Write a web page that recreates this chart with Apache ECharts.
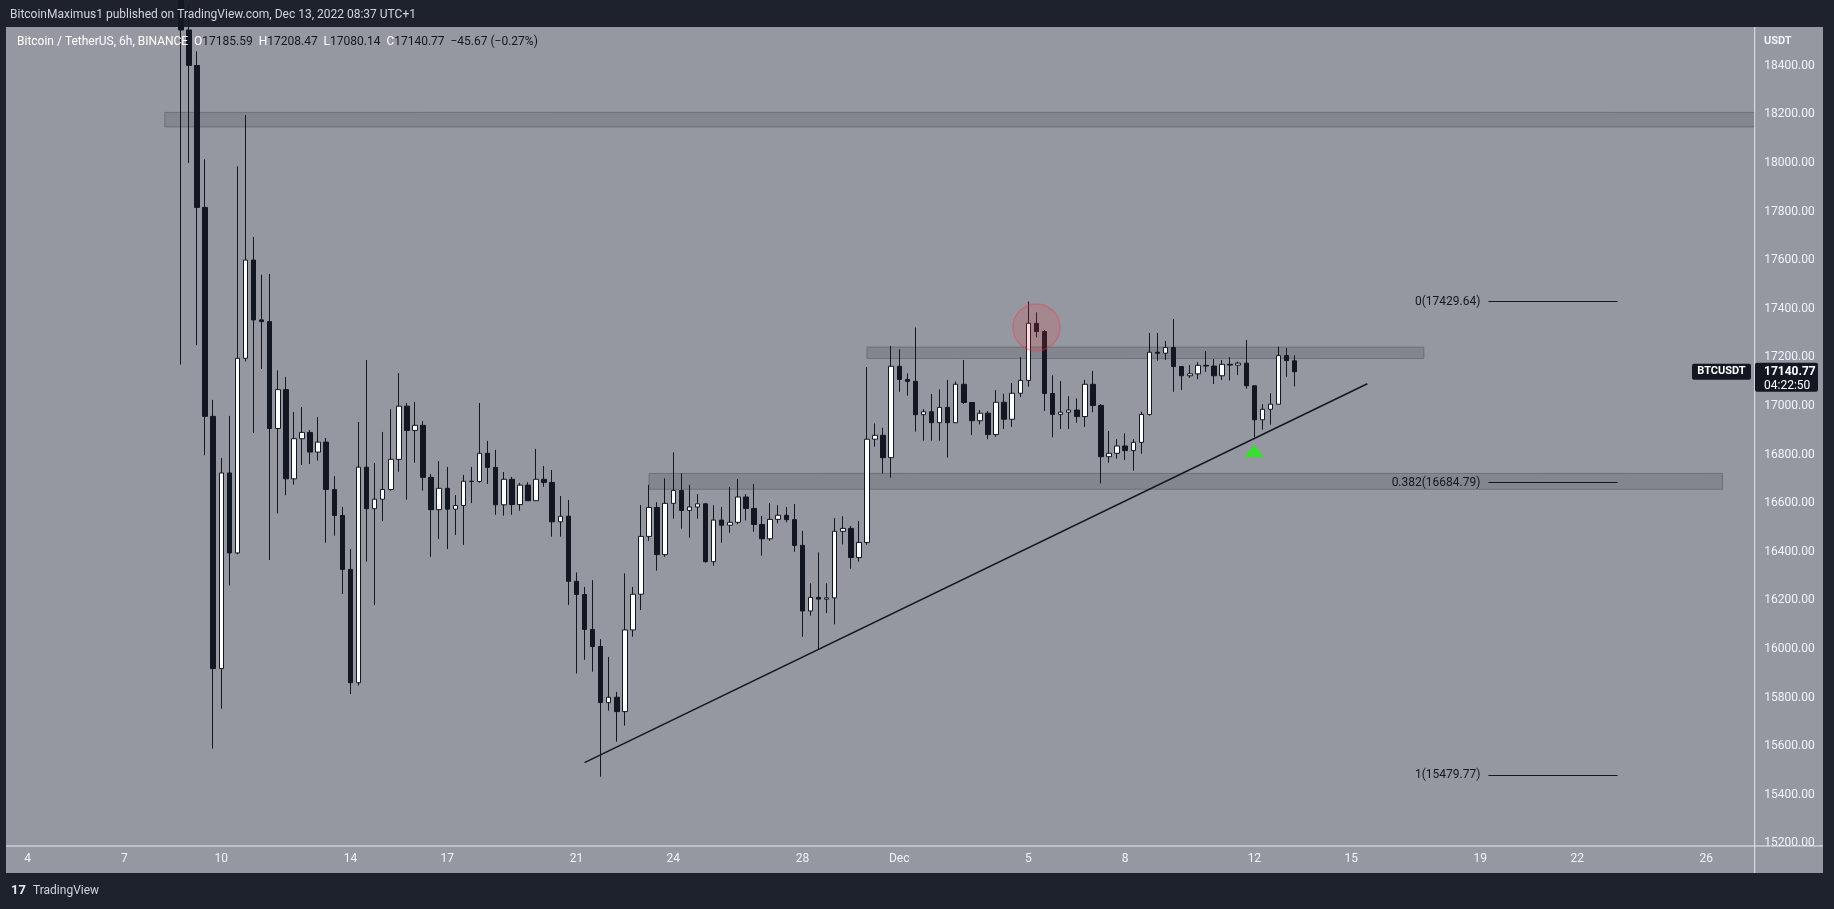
<!DOCTYPE html>
<html><head><meta charset="utf-8">
<script src="https://cdn.jsdelivr.net/npm/echarts@6/dist/echarts.min.js"></script>
<style>html,body{margin:0;padding:0;background:#1e222d;overflow:hidden}#c{width:1834px;height:909px}</style>
</head><body><div id="c"></div>
<script>
// ---------- DATA ----------
const firstCandle = '2022-11-08 19:00';
const opens  = [19560,18547,18401,17817,16957,15919,16724,16395,17196,17600,17354,17347,16907,17067,16700,16865,16891,16810,16851,16656,16549,16327,15861,16748,16577,16616,16656,16780,16999,16899,16920,16706,16573,16661,16575,16590,16690,16689,16805,16747,16593,16698,16594,16674,16610,16698,16685,16523,16546,16278,16224,16080,16010,15779,15801,15742,16078,16225,16463,16582,16388,16599,16652,16570,16584,16597,16359,16530,16509,16521,16625,16578,16512,16453,16533,16550,16532,16426,16156,16212,16205,16210,16484,16496,16376,16438,16863,16879,16787,17163,17109,17101,16964,16976,16931,16994,16931,17089,17014,16939,16970,16882,17015,16945,17052,17105,17340,17306,17051,16965,16974,16983,16956,17089,17002,16791,16805,16835,16816,16850,16965,17221,17217,17240,17162,17124,17132,17167,17164,17124,17171,17168,17176,17083,16943,16986,17007,17207,17185.59];
const highs  = [19700,18650,18459,18015,17025,16786,16959,17986,18197,17695,17540,17543,17146,17119,16975,16995,16901,16954,16868,16711,16584,16411,16934,17189,16765,16893,16987,17135,17012,17016,16938,16720,16773,16749,16633,16716,16749,17012,16856,16819,16728,16708,16683,16686,16823,16753,16736,16629,16613,16315,16255,16283,16040,15967,15823,16311,16255,16592,16675,16604,16702,16809,16723,16675,16637,16600,16592,16584,16666,16699,16637,16679,16547,16600,16592,16584,16596,16486,16270,16397,16270,16538,16546,16506,16526,17160,16928,16910,17247,17233,17134,17323,16987,17049,17068,17107,17100,17189,17015,16983,16979,17065,17050,17094,17201,17429.64,17385,17312,17126,17102,17040,17031,17107,17144,17008,16897,16863,16887,16863,16976,17300,17300,17267,17358,17163,17168,17180,17226,17193,17189,17201,17182,17271,17085,17007,17052,17244,17238,17208.47];
const lows   = [17170,18000,17250,16797,15590,15754,16261,16389,17183,16889,17152,16366,16558,16632,16676,16757,16761,16775,16437,16466,16226,15814,15849,16359,16181,16526,16651,16729,16614,16766,16651,16379,16452,16411,16469,16428,16600,16684,16679,16552,16548,16552,16569,16610,16610,16667,16462,16462,16181,15899,15955,15906,15474,15746,15618,15684,16050,16160,16445,16322,16379,16536,16495,16458,16536,16355,16342,16437,16478,16513,16529,16482,16384,16445,16517,16521,16400,16050,16137,15999,16147,16101,16430,16330,16359,16429,16832,16721,16705,17058,17042,16894,16857,16857,16857,16787,16931,17008,16880,16924,16863,16873,16905,16914,17037,17079,17282,16979,16871,16905,16905,16931,16914,16974,16681,16766,16783,16777,16733,16803,16960,17186,17189,17058,17065,17115,17110,17140,17090,17107,17105,17127,17071,16872,16902,16923,17007,17120,17080.14];
const closes = [18547,18401,17817,16957,15919,16724,16395,17196,17600,17354,17347,16907,17067,16700,16865,16891,16810,16851,16656,16549,16327,15861,16748,16577,16616,16656,16780,16999,16899,16920,16706,16573,16661,16575,16590,16690,16689,16805,16747,16593,16698,16594,16674,16610,16698,16685,16523,16546,16278,16224,16080,16010,15779,15801,15742,16078,16225,16463,16582,16388,16599,16652,16570,16584,16597,16359,16530,16509,16521,16625,16578,16512,16453,16533,16550,16532,16426,16156,16212,16205,16210,16484,16496,16376,16438,16863,16879,16787,17163,17109,17101,16964,16976,16931,16994,16931,17089,17014,16939,16970,16882,17015,16945,17052,17105,17340,17306,17051,16965,16974,16983,16956,17089,17002,16791,16805,16835,16816,16850,16965,17221,17217,17240,17162,17124,17132,17167,17164,17124,17171,17168,17176,17083,16943,16986,17007,17207,17186.44,17140.77];

const tickDates  = ['2022-11-04','2022-11-07','2022-11-10','2022-11-14','2022-11-17','2022-11-21','2022-11-24','2022-11-28','2022-12-01','2022-12-05','2022-12-08','2022-12-12','2022-12-15','2022-12-19','2022-12-22','2022-12-26'];
const tickLabels = ['4','7','10','14','17','21','24','28','Dec','5','8','12','15','19','22','26'];

const zoneFrom = ['2022-11-08 07:00','2022-11-30 01:00','2022-11-23 07:00'];
const zoneTo   = ['2022-12-27 13:00','2022-12-17 07:00','2022-12-26 13:00'];
const zoneLow  = [18148, 17195, 16657];
const zoneHigh = [18208, 17242, 16722];

const trendDates  = ['2022-11-21 07:00','2022-12-15 13:00'];
const trendPrices = [15532, 17091];

const fibRatios = ['0','0.382','1'];
const fibPrices = [17429.64, 16684.79, 15479.77];
const fibFrom = '2022-12-19 07:00';
const fibTo   = '2022-12-23 07:00';

const circlePoint   = ['2022-12-05 07:00', 17323];
const trianglePoint = ['2022-12-12 01:00', 16814];
const countdown = '04:22:50';

// ---------- CATEGORIES (6h slots, UTC+1 wall time) ----------
const slot0 = Date.UTC(2022, 10, 3, 13);
const nSlots = 217;
function slotName(k){ const d = new Date(slot0 + k*6*3600e3); return d.toISOString().slice(0,13).replace('T',' ') + ':00'; }
const categories = [];
for (let k = 0; k < nSlots; k++) categories.push(slotName(k));
const tickMap = {};
tickDates.forEach((d,i)=>{ tickMap[d + ' 01:00'] = tickLabels[i]; });

const startIdx = categories.indexOf(firstCandle);
const candleData = [];
for (let i = 0; i < startIdx; i++) candleData.push(['-','-','-','-']);
opens.forEach((o,i)=>candleData.push([o, closes[i], lows[i], highs[i]]));

const DARK = '#131722';
const FONT = 'Roboto, "Noto Sans", sans-serif';

const chart = echarts.init(document.getElementById('c'), null, {renderer:'canvas'});
chart.setOption({
  animation: false,
  backgroundColor: '#1e222d',
  grid: {left: 7.42, right: 75.2, top: 27, bottom: 63, containLabel: false},
  xAxis: {
    type: 'category', data: categories, boundaryGap: true, z: 5,
    axisLine: {show: false}, axisTick: {show: false}, splitLine: {show: false},
    axisLabel: {
      interval: (idx, val) => tickMap[val] !== undefined,
      formatter: val => tickMap[val] || '',
      color: '#f0f3fa', fontSize: 12, fontFamily: FONT, margin: 7
    }
  },
  yAxis: {
    type: 'value', position: 'right', min: 15188.9, max: 18559.3, splitNumber: 17, z: 5,
    scale: true,
    axisLine: {show: false}, axisTick: {show: false}, splitLine: {show: false},
    axisLabel: {
      showMinLabel: false, showMaxLabel: false,
      formatter: v => (Math.abs(v/200 - Math.round(v/200)) < 1e-6) ? v.toFixed(2) : '',
      color: '#f0f3fa', fontSize: 12, fontFamily: FONT, margin: 5.5, align: 'left'
    }
  },
  series: [
    {
      type: 'candlestick', data: candleData, barWidth: 5, clip: true, z: 3,
      itemStyle: {color: '#ffffff', color0: DARK, borderColor: DARK, borderColor0: DARK, borderWidth: 1},
      markArea: {
        silent: true,
        itemStyle: {color: 'rgba(70,73,82,0.22)', borderColor: 'rgba(90,93,102,0.6)', borderWidth: 1},
        data: zoneFrom.map((f,i)=>[{xAxis: f, yAxis: zoneLow[i]}, {xAxis: zoneTo[i], yAxis: zoneHigh[i]}])
      },
      markLine: {
        silent: true, symbol: ['none','none'],
        data: [
          [{coord: [trendDates[0], trendPrices[0]], lineStyle: {color: DARK, width: 1.5, type: 'solid'}, label: {show: false}},
           {coord: [trendDates[1], trendPrices[1]]}]
        ].concat(fibPrices.map((p,i)=>[
          {coord: [fibFrom, p], lineStyle: {color: DARK, width: 1.2, type: 'solid'},
           label: {show: true, position: 'start', distance: 8, formatter: fibRatios[i] + '(' + p.toFixed(2) + ')', color: DARK, fontSize: 12, fontFamily: FONT}},
          {coord: [fibTo, p]}
        ]))
      }
    },
    {
      type: 'scatter', z: 4, silent: true, symbol: 'circle', symbolSize: 47,
      itemStyle: {color: 'rgba(242,54,69,0.22)', borderColor: 'rgba(242,54,69,0.45)', borderWidth: 1.5},
      data: [circlePoint]
    },
    {
      type: 'scatter', z: 4, silent: true, symbol: 'triangle', symbolSize: [20, 12],
      itemStyle: {color: '#1ef20e'},
      data: [trianglePoint]
    }
  ]
});

// ---------- chrome / labels ----------
const lastO = opens[opens.length-1], lastH = highs[highs.length-1], lastL = lows[lows.length-1], lastC = closes[closes.length-1];
const prevC = closes[closes.length-2];
const chg = lastC - prevC, pct = chg / prevC * 100;
const sgn = v => (v < 0 ? '\u2212' : '+') + Math.abs(v).toFixed(2);
const yPrice = chart.convertToPixel({yAxisIndex: 0}, lastC);

chart.setOption({
  graphic: [
    {type:'rect', z:-10, silent:true, shape:{x:6, y:27, width:1817, height:846}, style:{fill:'#9598a1'}},
    {type:'rect', z:20, silent:true, shape:{x:6, y:845.5, width:1817, height:1}, style:{fill:'#e6e8ee'}},
    {type:'rect', z:20, silent:true, shape:{x:1754.2, y:27, width:1, height:846}, style:{fill:'#e6e8ee'}},
    {type:'text', z:20, silent:true, x:10, y:15, style:{text:'BitcoinMaximus1 published on TradingView.com, Dec 13, 2022 08:37 UTC+1', fill:'#d1d4dc', font:'12px ' + FONT, verticalAlign:'middle'}},
    {type:'text', z:20, silent:true, x:17, y:42, style:{
      text: '{w|Bitcoin / TetherUS, 6h, BINANCE}  {w|O}{d|' + lastO.toFixed(2) + '}  {w|H}{d|' + lastH.toFixed(2) + '}  {w|L}{d|' + lastL.toFixed(2) + '}  {w|C}{d|' + lastC.toFixed(2) + '}  {d|' + sgn(chg) + ' (' + sgn(pct) + '%)}',
      font:'12px ' + FONT, verticalAlign:'middle',
      rich:{w:{fill:'#ffffff', font:'12px ' + FONT}, d:{fill:DARK, font:'12px ' + FONT}}
    }},
    {type:'text', z:20, silent:true, x:1764, y:41, style:{text:'USDT', fill:'#f0f3fa', font:'bold 11px ' + FONT, verticalAlign:'middle'}},
    {type:'rect', z:21, silent:true, shape:{x:1692, y:yPrice-8, width:59, height:16, r:2}, style:{fill:DARK}},
    {type:'text', z:22, silent:true, x:1721.5, y:yPrice, style:{text:'BTCUSDT', fill:'#ffffff', font:'bold 11px ' + FONT, align:'center', verticalAlign:'middle'}},
    {type:'rect', z:21, silent:true, shape:{x:1755, y:yPrice-9, width:63, height:29, r:2}, style:{fill:DARK}},
    {type:'text', z:22, silent:true, x:1764, y:yPrice, style:{text:lastC.toFixed(2), fill:'#ffffff', font:'bold 12px ' + FONT, verticalAlign:'middle'}},
    {type:'text', z:22, silent:true, x:1764, y:yPrice+14, style:{text:countdown, fill:'#ffffff', font:'12px ' + FONT, verticalAlign:'middle'}},
    {type:'text', z:20, silent:true, x:11, y:891, style:{text:'17', fill:'#e6e8ee', font:'bold 13px ' + FONT, verticalAlign:'middle'}},
    {type:'text', z:20, silent:true, x:33, y:891, style:{text:'TradingView', fill:'#d1d4dc', font:'12px ' + FONT, verticalAlign:'middle'}}
  ]
});
</script></body></html>
